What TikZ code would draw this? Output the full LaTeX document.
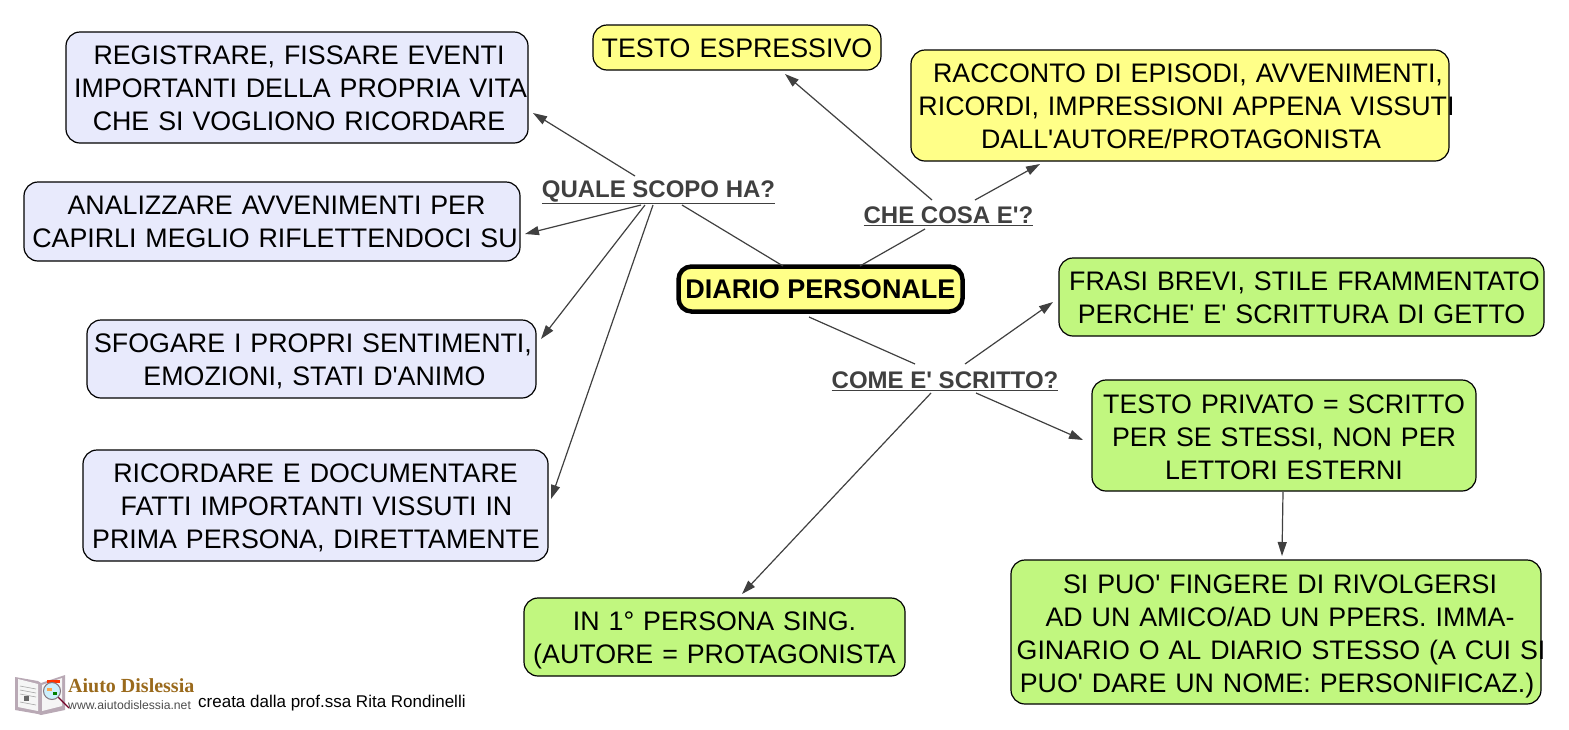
\documentclass[tikz,border=0pt]{standalone}
\usepackage{fontspec}
\setmainfont{Liberation Sans}[Ligatures=TeXOff]
\newfontfamily\logofont{Liberation Serif}
\usetikzlibrary{arrows.meta}
\definecolor{yel}{HTML}{FFFF88}
\definecolor{lav}{HTML}{E8EAFC}
\definecolor{grn}{HTML}{C1F77F}
\definecolor{lnk}{HTML}{404040}
\definecolor{logob}{HTML}{9A6A1C}
\definecolor{bookc}{HTML}{B9A9B5}
\newcommand{\tdn}{0pt}
\newcommand{\ltx}[2][0pt]{\makebox[0pt][c]{\hspace*{#1}\smash{\raisebox{\dimexpr-9.6pt-\tdn\relax}{#2}}}}
\tikzset{
  bx/.style={draw=black,line width=1.2pt,rounded corners=14pt,inner sep=0pt,align=center,
    font=\fontsize{26.8}{33}\selectfont,text width=200pt},
  tsh/.code={\renewcommand{\tdn}{#1}},
  lab/.style={inner sep=0pt,text=lnk,font=\bfseries\fontsize{24}{28}\selectfont},
  ar/.style={draw=lnk,line width=1.2pt,-{Triangle[length=14pt,width=9pt]}},
  pl/.style={draw=lnk,line width=1.2pt}
}
\begin{document}
\begin{tikzpicture}[x=1pt,y=-1pt]
\useasboundingbox (0,0) rectangle (1569,729);
% boxes
\node[bx,tsh=0.5pt,fill=lav,minimum width=462pt,minimum height=111pt] (reg) at (297,87.5)
 {\ltx[4pt]{REGISTRARE, FISSARE EVENTI}\\\ltx[7pt]{IMPORTANTI DELLA PROPRIA VITA}\\\ltx[4pt]{CHE SI VOGLIONO RICORDARE}};
\node[bx,fill=lav,minimum width=496pt,minimum height=79pt] (ana) at (272,221.5)
 {\ltx[9pt]{ANALIZZARE AVVENIMENTI PER}\\\ltx[6pt]{CAPIRLI MEGLIO RIFLETTENDOCI SU}};
\node[bx,fill=lav,minimum width=449pt,minimum height=78pt] (sfo) at (311.5,359)
 {\ltx[3pt]{SFOGARE I PROPRI SENTIMENTI,}\\\ltx[6pt]{EMOZIONI, STATI D'ANIMO}};
\node[bx,tsh=0.5pt,fill=lav,minimum width=465pt,minimum height=111pt] (ric) at (315.5,505.5)
 {\ltx{RICORDARE E DOCUMENTARE}\\\ltx[2pt]{FATTI IMPORTANTI VISSUTI IN}\\\ltx[1pt]{PRIMA PERSONA, DIRETTAMENTE}};
\node[bx,fill=yel,minimum width=288pt,minimum height=45pt] (esp) at (737,47.5)
 {\ltx{TESTO ESPRESSIVO}};
\node[bx,tsh=0.5pt,fill=yel,minimum width=538pt,minimum height=111pt] (rac) at (1180,105.5)
 {\ltx[16pt]{RACCONTO DI EPISODI, AVVENIMENTI,}\\\ltx[13pt]{RICORDI, IMPRESSIONI APPENA VISSUTI}\\\ltx[2pt]{DALL'AUTORE/PROTAGONISTA}};
\node[draw=black,line width=4.5pt,rounded corners=13pt,fill=yel,inner sep=0pt,minimum width=284pt,minimum height=45pt,
  font=\bfseries\fontsize{27}{33}\selectfont] (dia) at (820.5,289) {\raisebox{-1pt}{DIARIO PERSONALE}};
\node[bx,tsh=0.5pt,fill=grn,minimum width=485pt,minimum height=78pt] (fra) at (1301.5,297)
 {\ltx[6pt]{FRASI BREVI, STILE FRAMMENTATO}\\\ltx{PERCHE' E' SCRITTURA DI GETTO}};
\node[bx,tsh=1.5pt,fill=grn,minimum width=384pt,minimum height=111pt] (pri) at (1284,435.5)
 {\ltx{TESTO PRIVATO = SCRITTO}\\\ltx{PER SE STESSI, NON PER}\\\ltx{LETTORI ESTERNI}};
\node[bx,tsh=1.5pt,fill=grn,minimum width=530pt,minimum height=144pt] (sip) at (1276,632)
 {\ltx[8pt]{SI PUO' FINGERE DI RIVOLGERSI}\\\ltx[8pt]{AD UN AMICO/AD UN PPERS. IMMA-}\\\ltx[10pt]{GINARIO O AL DIARIO STESSO (A CUI SI}\\\ltx[2pt]{PUO' DARE UN NOME: PERSONIFICAZ.)}};
\node[bx,fill=grn,minimum width=381pt,minimum height=78pt] (ing) at (714.5,637)
 {\ltx{IN 1° PERSONA SING.}\\\ltx{(AUTORE = PROTAGONISTA}};
% link labels
\node[lab] (qua) at (658.5,192.5) {\underline{QUALE SCOPO HA?}};
\node[lab] (che) at (948.5,216) {\underline{CHE COSA E'?}};
\node[lab] (com) at (945,381) {\underline{COME E' SCRITTO?}};
% connectors
\draw[pl] ([shift={(-37.5,-23)}]dia.center) -- ([shift={(23.5,12.5)}]qua.center);
\draw[pl] ([shift={(39.5,-23)}]dia.center) -- ([shift={(-23.5,13)}]che.center);
\draw[pl] ([shift={(-11.5,28)}]dia.center) -- ([shift={(-30,-17)}]com.center);
\draw[ar] ([shift={(-23.5,-16.5)}]qua.center) -- ([shift={(236,25.5)}]reg.center);
\draw[ar] ([shift={(-17.5,12.5)}]qua.center) -- ([shift={(253,12.5)}]ana.center);
\draw[ar] ([shift={(-13.5,12.5)}]qua.center) -- ([shift={(229.5,-20)}]sfo.center);
\draw[ar] ([shift={(-5.5,12.5)}]qua.center) -- ([shift={(235.5,-6.5)}]ric.center);
\draw[ar] ([shift={(-16.5,-16)}]che.center) -- ([shift={(48,26.5)}]esp.center);
\draw[ar] ([shift={(26.5,-16)}]che.center) -- ([shift={(-140,58.5)}]rac.center);
\draw[ar] ([shift={(20,-17)}]com.center) -- ([shift={(-248.5,5)}]fra.center);
\draw[ar] ([shift={(31,12)}]com.center) -- ([shift={(-201,4.5)}]pri.center);
\draw[ar] ([shift={(-14,12)}]com.center) -- ([shift={(27.5,-43)}]ing.center);
\draw[ar] ([shift={(-1,56.5)}]pri.center) -- ([shift={(6,-76)}]sip.center);
% logo
\fill[bookc] (15,677) -- (38,681) -- (41,683) -- (65,675) -- (65,710) -- (41,715) -- (38,714) -- (15,710) -- cycle;
\fill[white!92!gray] (18,679) -- (38,684) -- (38,711) -- (18,707) -- cycle;
\fill[white!92!gray] (42,685) -- (62,678) -- (62,706) -- (42,711) -- cycle;
\foreach \yy in {686,690,694,702}{\draw[gray!70,line width=.6pt] (20,\yy) -- (36,\yy+3);}
\fill[black!60] (24,696) rectangle (29,701);
\fill[red!60!orange] (47,680) rectangle (60,683);
\draw[purple!60!black,line width=1.3pt] (57,696) -- (69,708);
\draw[bookc!70!black,line width=1pt,fill=cyan!20] (52,691) circle (8.5);
\fill[orange!70] (47,688) rectangle (52,691);
\fill[green!50!black] (53,692) rectangle (57,695);
\node[inner sep=0pt,anchor=west,text=logob,font=\logofont\bfseries\fontsize{20}{24}\selectfont] (lt) at (68,686) {Aiuto Dislessia};
\node[inner sep=0pt,anchor=west,text=black!70,font=\fontsize{12.2}{15}\selectfont] (lu) at (68,705) {www.aiutodislessia.net};
\node[inner sep=0pt,anchor=west,text=black,font=\fontsize{17}{20}\selectfont] (cr) at (198,703.5) {creata dalla prof.ssa Rita Rondinelli};
\end{tikzpicture}
\end{document}
